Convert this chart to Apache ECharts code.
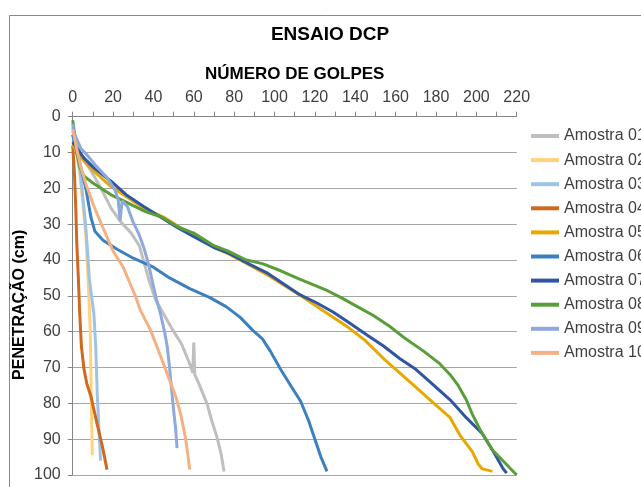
<!DOCTYPE html>
<html>
<head>
<meta charset="utf-8">
<script src="https://cdn.jsdelivr.net/npm/echarts@6/dist/echarts.min.js"></script>
<style>
html,body{margin:0;padding:0;background:#fff;}
#c{width:641px;height:487px;}
</style>
</head>
<body>
<div id="c"></div>
<script>
// ---- data: [numero de golpes, penetracao (cm)] ----
var seriesNames = ['Amostra 01','Amostra 02','Amostra 03','Amostra 04','Amostra 05','Amostra 06','Amostra 07','Amostra 08','Amostra 09','Amostra 10'];
var xTicks = [0,20,40,60,80,100,120,140,160,180,200,220];
var yTicks = [0,10,20,30,40,50,60,70,80,90,100];

var am01 = [[0,3],[4,11],[9,15],[14,20],[19,25.5],[24,29.5],[29,32.5],[33,36],[36,42],[38,46],[41,51],[45,55],[49,59],[54,63.5],[58,69],[59.5,71.5],[60,63],[60.5,72],[62.5,74.5],[66.5,80],[69,85],[71.5,89.5],[73.5,94],[75,99]];
var am02 = [[0,4],[1.5,8],[3,14],[4,18.5],[5.5,27],[6.5,33],[7.3,42],[8,50],[8.7,60],[9,70],[9.2,80],[9.5,88],[9.7,94.5]];
var am03 = [[0,5],[1.5,9],[3,13],[4,17],[5.5,25],[6.5,31],[7.3,37],[8.2,45],[9.3,50],[10.5,55],[11.4,64],[12.2,78],[13,87],[13.8,96]];
var am04 = [[0,8],[0.8,15],[1.5,25],[2,35],[2.8,45],[3.5,55],[4.3,64],[5.6,70.5],[7,74.5],[9,78],[12,85.5],[14.7,92],[17,98.5]];
var am05 = [[0,8],[5,12],[10,15],[19,19.5],[27,22.5],[35,25.5],[45,28],[52,30.5],[60,33],[70,36.5],[78,38.5],[88,41.5],[96,44],[104.5,47],[113,50],[121,53],[129,56],[137,59],[145,62.5],[154,67.5],[162,71.5],[170,75.5],[178,79.5],[187,84],[192,89],[198,93.5],[201,97],[203,98.3],[208,99]];
var am06 = [[0,5],[4,14],[6.5,20],[9,28],[11,32],[15,34.5],[22,37],[30,39.5],[40,42],[48,45],[58,48],[68,50.5],[76,53],[83,56],[89,59.5],[94,62],[98,65.5],[103,70.5],[108,75],[113,79.5],[117,85],[120,90],[123,95],[126,99]];
var am07 = [[0,7],[5.5,11.5],[10.5,14.3],[19,18],[27,22],[35,25],[43.5,28],[52,31],[60,33.5],[70,36.5],[77,38],[88,41.3],[96,43.5],[104,46.5],[112,49.5],[121,52],[129,54.5],[137,57.5],[146,61],[154,64],[162,67.5],[170,70.5],[178,74.5],[187,79],[195,84],[203,88.5],[209,94],[213,98],[215,99.5]];
var am08 = [[0,1],[1,5],[2,10],[3.5,14],[5.5,16.5],[10,18.5],[19,21.8],[27,24],[36,26.5],[44,28],[53,31],[60,32.5],[70,36],[77,37.5],[86,40],[94,41],[103,43],[113,45.5],[126,48.5],[133,50.5],[141,53],[149,55.5],[157,58.5],[165,62],[174,65.5],[182,69],[187,72],[191,75],[195,79],[198,83],[202,87.5],[208,93],[214,96.5],[220,100]];
var am09 = [[0,2],[0.6,4.5],[4,8.8],[7,10.6],[12,14],[17,17],[21,20.5],[22.5,23],[23.5,29],[24.5,23.5],[27,25],[30,29.5],[33,33],[35.5,37],[37.5,41],[39.5,46],[41.5,51],[43.5,55],[45.5,60],[46.8,64],[48,70],[48.8,75],[50,82],[51,87],[51.7,92.5]];
var am10 = [[0,3.5],[2,9],[4,14],[7,19.5],[10.5,25],[15,31],[20,37.5],[25,42],[28,46],[31,50],[33.5,54],[38.5,59.5],[43,66],[48,73.5],[51,78],[53.5,83],[56,90],[58,98.5]];

var seriesData = [am01,am02,am03,am04,am05,am06,am07,am08,am09,am10];
var colors = ['#BFBFBF','#FFD27F','#9DC3E6','#D0691F','#E8A800','#3C80C0','#2F55A5','#5A9E3A','#8EA9DB','#F4B183'];

var chart = echarts.init(document.getElementById('c'), null, {renderer:'canvas'});
var FONT = '"Liberation Sans", Arial, sans-serif';

var series = seriesNames.map(function(n,i){
  return {
    name:n, type:'line', data:seriesData[i], showSymbol:false, symbol:'none',
    lineStyle:{width:3, color:colors[i]}, itemStyle:{color:colors[i]},
    smooth:false, animation:false, z: 2
  };
});

chart.setOption({
  animation:false,
  color: colors,
  graphic:[{type:'rect', shape:{x:9.5,y:15.5,width:700,height:600}, style:{fill:'none', stroke:'#898989', lineWidth:1}, silent:true, z:-1}],
  title:{text:'ENSAIO DCP', left:325, top:20, textAlign:'center',
    textStyle:{fontFamily:FONT, fontWeight:'bold', fontSize:19, color:'#000'}},
  legend:{orient:'vertical', left:526, top:122, icon:'rect', itemWidth:28, itemHeight:4, itemGap:6.1,
    data:seriesNames,
    textStyle:{fontFamily:FONT, fontSize:16, color:'#404040', lineHeight:18}},
  grid:{left:72.7, right:124.3, top:116.7, bottom:12, containLabel:false, outerBoundsMode:'none'},
  xAxis:{type:'value', position:'top', min:0, max:220, interval:20,
    name:'NÚMERO DE GOLPES', nameLocation:'middle', nameGap:34, nameMoveOverlap:false,
    nameTextStyle:{fontFamily:FONT, fontWeight:'bold', fontSize:17, color:'#000'},
    axisLine:{show:true, lineStyle:{color:'#868686', width:1}},
    axisTick:{show:true, inside:false, length:5, lineStyle:{color:'#868686'}},
    minorTick:{show:true, splitNumber:2, length:5, lineStyle:{color:'#868686'}},
    splitLine:{show:false},
    axisLabel:{fontFamily:FONT, fontSize:16, color:'#404040', margin:11}},
  yAxis:{type:'value', inverse:true, min:0, max:100, interval:10,
    name:'PENETRAÇÃO (cm)', nameLocation:'middle', nameGap:45, nameRotate:90, nameMoveOverlap:false,
    nameTextStyle:{fontFamily:FONT, fontWeight:'bold', fontSize:16, color:'#000', padding:[0,18,0,0]},
    axisLine:{show:true, lineStyle:{color:'#868686', width:1}},
    axisTick:{show:true, inside:false, length:5, lineStyle:{color:'#868686'}},
    splitLine:{show:true, lineStyle:{color:'#A6A6A6', width:1}},
    axisLabel:{fontFamily:FONT, fontSize:16, color:'#404040', margin:12}},
  series: series
});
</script>
</body>
</html>
